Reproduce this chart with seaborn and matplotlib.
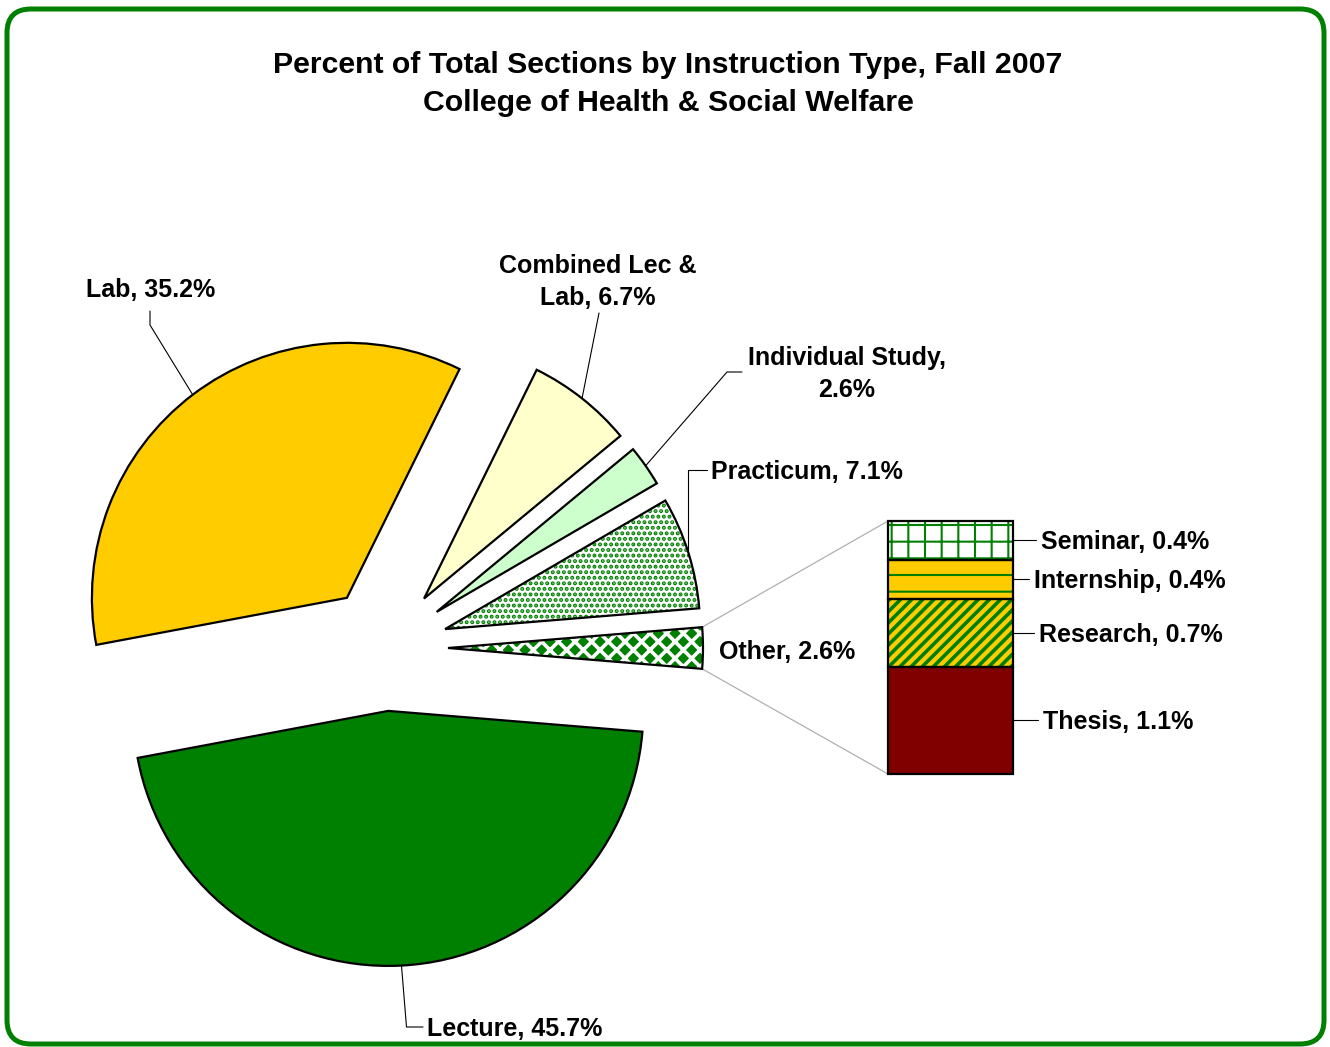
import numpy as np
import matplotlib
matplotlib.use("Agg")
import matplotlib.pyplot as plt
import seaborn as sns
from matplotlib.patches import FancyBboxPatch
import textwrap

# ---------------- data ----------------
pie_labels = ["Other", "Practicum", "Individual Study", "Combined Lec & Lab", "Lab", "Lecture"]
pie_values = [2.6, 7.1, 2.6, 6.7, 35.2, 45.7]
bar_labels = ["Thesis", "Research", "Internship", "Seminar"]
bar_values = [1.1, 0.7, 0.4, 0.4]
title_lines = ["Percent of Total Sections by Instruction Type, Fall 2007",
               "College of Health & Social Welfare"]

# ---------------- style ----------------
sns.set_theme(style="white")
plt.rcParams['font.family'] = ['Liberation Sans', 'DejaVu Sans']
plt.rcParams['hatch.linewidth'] = 1.5
plt.rcParams['text.color'] = 'black'

GREEN = "#008000"
pie_colors = {"Other": GREEN, "Practicum": "white", "Individual Study": "#CCFFCC",
              "Combined Lec & Lab": "#FFFFCC", "Lab": "#FFCC00", "Lecture": GREEN}
pie_hatches = {"Other": "xx", "Practicum": "..."}
pie_hatch_colors = {"Other": "white", "Practicum": GREEN}
pie_hatch_lw = {"Other": 2.6, "Practicum": 2.0}
bar_colors = {"Thesis": "#800000", "Research": "#FFCC00", "Internship": "#FFCC00", "Seminar": "white"}
bar_hatches = {"Research": "///", "Internship": "-", "Seminar": "+"}
bar_hatch_lw = {"Research": 2.6, "Internship": 1.5, "Seminar": 1.5}

W, H = 1330, 1047
fig = plt.figure(figsize=(W / 100, H / 100), dpi=100)
fig.patch.set_facecolor("white")
ax = fig.add_axes([0, 0, 1, 1])

R = 255.0
CX, CY = 385.0, 648.0


def d(px, py):
    return ((px - CX) / R, (CY - py) / R)


explode_frac = 0.247
start = -pie_values[0] / sum(pie_values) * 360 / 2
explode = [explode_frac] * len(pie_values)

# fill + hatch layer
wedges, _ = ax.pie(pie_values, explode=explode, startangle=start, counterclock=True,
                   colors=[pie_colors[k] for k in pie_labels], radius=1, center=(0, 0),
                   wedgeprops=dict(linewidth=0), frame=True)
for w, k in zip(wedges, pie_labels):
    if k in pie_hatches:
        w.set_edgecolor(pie_hatch_colors[k])
        w.set_hatch(pie_hatches[k])
        if hasattr(w, "set_hatch_linewidth"):
            w.set_hatch_linewidth(pie_hatch_lw[k])
# outline layer
wedges2, _ = ax.pie(pie_values, explode=explode, startangle=start, counterclock=True,
                    colors=["none"] * len(pie_values), radius=1, center=(0, 0),
                    wedgeprops=dict(edgecolor="black", linewidth=1.6, fill=False), frame=True)

# stacked bar for "Other"
bar_xc = d(950.5, 0)[0]
bar_w = 125 / R
bar_bottom = d(0, 774)[1]
bar_scale = (253 / R) / sum(bar_values)
heights = [v * bar_scale for v in bar_values]
bottoms = bar_bottom + np.concatenate([[0], np.cumsum(heights)[:-1]])
bars = ax.bar([bar_xc] * len(bar_values), heights, bottom=bottoms, width=bar_w,
              color=[bar_colors[k] for k in bar_labels], edgecolor=GREEN, linewidth=0)
for b, k in zip(bars, bar_labels):
    if k in bar_hatches:
        b.set_hatch(bar_hatches[k])
        if hasattr(b, "set_hatch_linewidth"):
            b.set_hatch_linewidth(bar_hatch_lw[k])
ax.bar([bar_xc] * len(bar_values), heights, bottom=bottoms, width=bar_w,
       fill=False, edgecolor="black", linewidth=1.6)

# connector lines from Other wedge to bar
ow = wedges[0]
oc = np.array(ow.center)
p_top = oc + ow.r * np.array([np.cos(np.radians(ow.theta2)), np.sin(np.radians(ow.theta2))])
p_bot = oc + ow.r * np.array([np.cos(np.radians(ow.theta1)), np.sin(np.radians(ow.theta1))])
bx_left = bars[0].get_x()
ax.plot([p_top[0], bx_left], [p_top[1], bottoms[-1] + heights[-1]], color="#B0B0B0", lw=0.9, zorder=0)
ax.plot([p_bot[0], bx_left], [p_bot[1], bottoms[0]], color="#B0B0B0", lw=0.9, zorder=0)


def mid_anchor(w):
    a = np.radians((w.theta1 + w.theta2) / 2)
    c = np.array(w.center)
    return c + w.r * np.array([np.cos(a), np.sin(a)])


FS = 18
TDY = 2  # px text baseline correction
wraps = {"Combined Lec & Lab": 14, "Individual Study": 17}


def lab_text(k, v):
    s = f"{k}, {v}%"
    if k in wraps:
        s = textwrap.fill(s, wraps[k])
    return s


vals = dict(zip(pie_labels, pie_values))
wd = dict(zip(pie_labels, wedges))

# label layout (pixel coords): text pos, align, leader elbow points (text side)
layout = {
    "Lab": dict(pos=(151, 288), ha="center", path=[(150, 311), (150, 325)]),
    "Combined Lec & Lab": dict(pos=(598, 280), ha="center", path=[(599, 313)]),
    "Individual Study": dict(pos=(847, 372), ha="center", path=[(742, 372), (727, 372)]),
    "Practicum": dict(pos=(711, 470), ha="left", path=[(707, 470), None]),
    "Other": dict(pos=(719, 650), ha="left", path=None),
    "Lecture": dict(pos=(427, 1027), ha="left", path=[(423, 1027), None]),
}
for k in pie_labels:
    L = layout[k]
    tx, ty = d(L["pos"][0], L["pos"][1] + TDY)
    ax.text(tx, ty, lab_text(k, vals[k]), ha=L["ha"], va="center", fontsize=FS,
            fontweight="bold", color="black", linespacing=1.45, multialignment="center")
    if L["path"] is not None:
        anc = mid_anchor(wd[k])
        pts = []
        for p in L["path"]:
            if p is None:
                prev = pts[-1]
                if k == "Lecture":
                    pts.append((anc[0] + 5 / R, prev[1]))
                else:
                    pts.append((anc[0], prev[1]))
            else:
                pts.append(d(*p))
        pts.append(tuple(anc))
        xs, ys = zip(*pts)
        ax.plot(xs, ys, color="black", lw=0.8)

# bar labels
bar_text_x = {"Seminar": 1041, "Internship": 1034, "Research": 1039, "Thesis": 1043}
bx_right = bars[0].get_x() + bars[0].get_width()
for b, k, v in zip(bars, bar_labels, bar_values):
    yc = b.get_y() + b.get_height() / 2
    tx = d(bar_text_x[k], 0)[0]
    ax.plot([bx_right, tx - 5 / R], [yc, yc], color="black", lw=0.8)
    ax.text(tx, yc - TDY / R, f"{k}, {v}%", ha="left", va="center", fontsize=FS,
            fontweight="bold", color="black")

# limits
x0 = d(0, 0)[0]; x1 = d(W, 0)[0]
y1 = d(0, 0)[1]; y0 = d(0, H)[1]
ax.set_xlim(x0, x1)
ax.set_ylim(y0, y1)
ax.axis("off")

# title
fig.text(668 / W, 1 - 65 / H, title_lines[0], ha="center", va="center", fontsize=21.75,
         fontweight="bold", color="black")
fig.text(668 / W, 1 - 103 / H, title_lines[1], ha="center", va="center", fontsize=21.75,
         fontweight="bold", color="black")

# border
border = FancyBboxPatch((7 / W, 1 - 1044 / H), (1324 - 7) / W, (1044 - 9) / H,
                        boxstyle="round,pad=0,rounding_size=0.018", transform=fig.transFigure,
                        fill=False, edgecolor=GREEN, linewidth=3.6, mutation_aspect=W / H)
fig.patches.append(border)

fig.savefig("out.png", dpi=100, facecolor="white")
